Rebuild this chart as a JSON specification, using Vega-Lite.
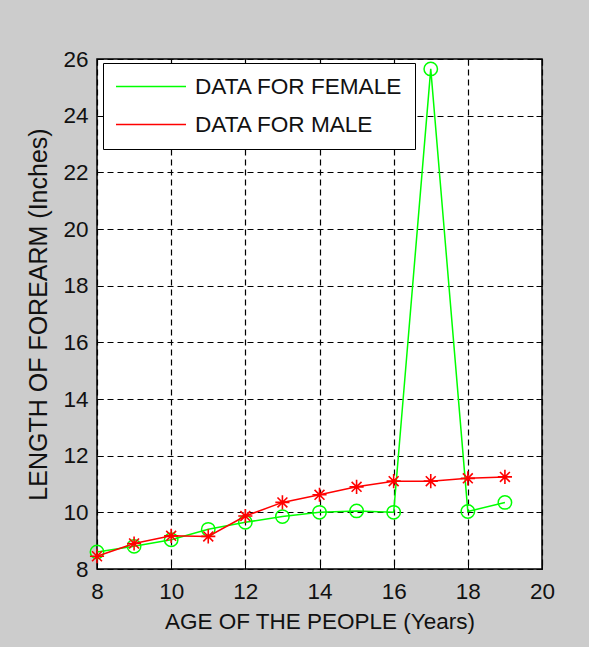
{
  "$schema": "https://vega.github.io/schema/vega-lite/v6.json",
  "width": 445,
  "height": 510,
  "autosize": {"type": "none"},
  "padding": {"left": 97, "top": 59, "right": 47, "bottom": 78},
  "background": "#cccccc",
  "config": {
    "view": {"fill": "white", "stroke": "black", "strokeWidth": 1.5},
    "font": "Liberation Sans"
  },
  "data": {
    "values": [
      {"age": 8, "len": 8.6, "series": "DATA FOR FEMALE"},
      {"age": 9, "len": 8.8, "series": "DATA FOR FEMALE"},
      {"age": 10, "len": 9.03, "series": "DATA FOR FEMALE"},
      {"age": 11, "len": 9.4, "series": "DATA FOR FEMALE"},
      {"age": 12, "len": 9.65, "series": "DATA FOR FEMALE"},
      {"age": 13, "len": 9.85, "series": "DATA FOR FEMALE"},
      {"age": 14, "len": 10.0, "series": "DATA FOR FEMALE"},
      {"age": 15, "len": 10.05, "series": "DATA FOR FEMALE"},
      {"age": 16, "len": 10.0, "series": "DATA FOR FEMALE"},
      {"age": 17, "len": 25.65, "series": "DATA FOR FEMALE"},
      {"age": 18, "len": 10.03, "series": "DATA FOR FEMALE"},
      {"age": 19, "len": 10.35, "series": "DATA FOR FEMALE"},
      {"age": 8, "len": 8.45, "series": "DATA FOR MALE"},
      {"age": 9, "len": 8.9, "series": "DATA FOR MALE"},
      {"age": 10, "len": 9.17, "series": "DATA FOR MALE"},
      {"age": 11, "len": 9.15, "series": "DATA FOR MALE"},
      {"age": 12, "len": 9.87, "series": "DATA FOR MALE"},
      {"age": 13, "len": 10.35, "series": "DATA FOR MALE"},
      {"age": 14, "len": 10.62, "series": "DATA FOR MALE"},
      {"age": 15, "len": 10.9, "series": "DATA FOR MALE"},
      {"age": 16, "len": 11.1, "series": "DATA FOR MALE"},
      {"age": 17, "len": 11.1, "series": "DATA FOR MALE"},
      {"age": 18, "len": 11.2, "series": "DATA FOR MALE"},
      {"age": 19, "len": 11.25, "series": "DATA FOR MALE"}
    ]
  },
  "resolve": {"axis": {"x": "independent", "y": "independent"}},
  "layer": [
    {
      "transform": [{"filter": "datum.series === 'DATA FOR FEMALE'"}],
      "mark": {"type": "line", "strokeWidth": 1.5},
      "encoding": {
        "x": {
          "field": "age", "type": "quantitative",
          "scale": {"domain": [8, 20], "nice": false, "zero": false},
          "axis": {
            "orient": "bottom", "values": [8, 10, 12, 14, 16, 18, 20],
            "title": "AGE OF THE PEOPLE (Years)",
            "grid": true, "gridDash": [6, 4], "gridColor": "black", "gridOpacity": 1, "gridWidth": 1.2,
            "domain": false, "tickSize": -6, "tickColor": "black", "tickWidth": 1,
            "labelPadding": 17, "labelFontSize": 22.5, "labelFont": "Liberation Sans", "labelColor": "#111",
            "labelFlush": false, "labelOverlap": false,
            "titleFontSize": 22.5, "titleFont": "Liberation Sans", "titleFontWeight": "normal", "titleColor": "#111",
            "titlePadding": 8
          }
        },
        "y": {
          "field": "len", "type": "quantitative",
          "scale": {"domain": [8, 26], "nice": false, "zero": false},
          "axis": {
            "orient": "left", "values": [8, 10, 12, 14, 16, 18, 20, 22, 24, 26],
            "title": "LENGTH OF FOREARM (Inches)",
            "grid": true, "gridDash": [6, 4], "gridColor": "black", "gridOpacity": 1, "gridWidth": 1.2,
            "domain": false, "tickSize": -6, "tickColor": "black", "tickWidth": 1,
            "labelPadding": 15, "labelFontSize": 22.5, "labelFont": "Liberation Sans", "labelColor": "#111",
            "labelFlush": false, "labelOverlap": false,
            "titleFontSize": 25, "titleFont": "Liberation Sans", "titleFontWeight": "normal", "titleColor": "#111",
            "titlePadding": 11
          }
        },
        "color": {
          "field": "series", "type": "nominal",
          "scale": {"domain": ["DATA FOR FEMALE", "DATA FOR MALE"], "range": ["#00ff00", "#ff0000"]},
          "legend": {
            "orient": "none", "legendX": 6, "legendY": 4, "title": null,
            "symbolType": "stroke", "symbolSize": 4900, "symbolStrokeWidth": 1.5,
            "labelFont": "Liberation Sans", "labelFontSize": 22.6, "labelColor": "#111", "labelLimit": 400,
            "fillColor": "white", "strokeColor": "black",
            "padding": 12, "rowPadding": 14, "labelOffset": 8, "clipHeight": 23
          }
        }
      }
    },
    {
      "transform": [{"filter": "datum.series === 'DATA FOR FEMALE'"}],
      "mark": {"type": "point", "shape": "circle", "filled": false, "color": "#00ff00", "strokeWidth": 1.5, "size": 180, "opacity": 1},
      "encoding": {
        "x": {"field": "age", "type": "quantitative", "axis": null},
        "y": {"field": "len", "type": "quantitative", "axis": null}
      }
    },
    {
      "transform": [{"filter": "datum.series === 'DATA FOR MALE'"}],
      "mark": {"type": "line", "strokeWidth": 1.5},
      "encoding": {
        "x": {"field": "age", "type": "quantitative", "axis": null},
        "y": {"field": "len", "type": "quantitative", "axis": null},
        "color": {"field": "series", "type": "nominal"}
      }
    },
    {
      "transform": [{"filter": "datum.series === 'DATA FOR MALE'"}],
      "mark": {"type": "point", "shape": "M0,-1L0,1M-1,0L1,0M-0.7,-0.7L0.7,0.7M-0.7,0.7L0.7,-0.7", "filled": false, "color": "#ff0000", "strokeWidth": 1.6, "size": 200, "opacity": 1},
      "encoding": {
        "x": {
          "field": "age", "type": "quantitative",
          "axis": {"orient": "top", "values": [8, 10, 12, 14, 16, 18, 20], "labels": false, "title": null, "grid": false, "domain": false, "tickSize": -6, "tickColor": "black", "tickWidth": 1}
        },
        "y": {
          "field": "len", "type": "quantitative",
          "axis": {"orient": "right", "values": [8, 10, 12, 14, 16, 18, 20, 22, 24, 26], "labels": false, "title": null, "grid": false, "domain": false, "tickSize": -6, "tickColor": "black", "tickWidth": 1}
        }
      }
    }
  ]
}
